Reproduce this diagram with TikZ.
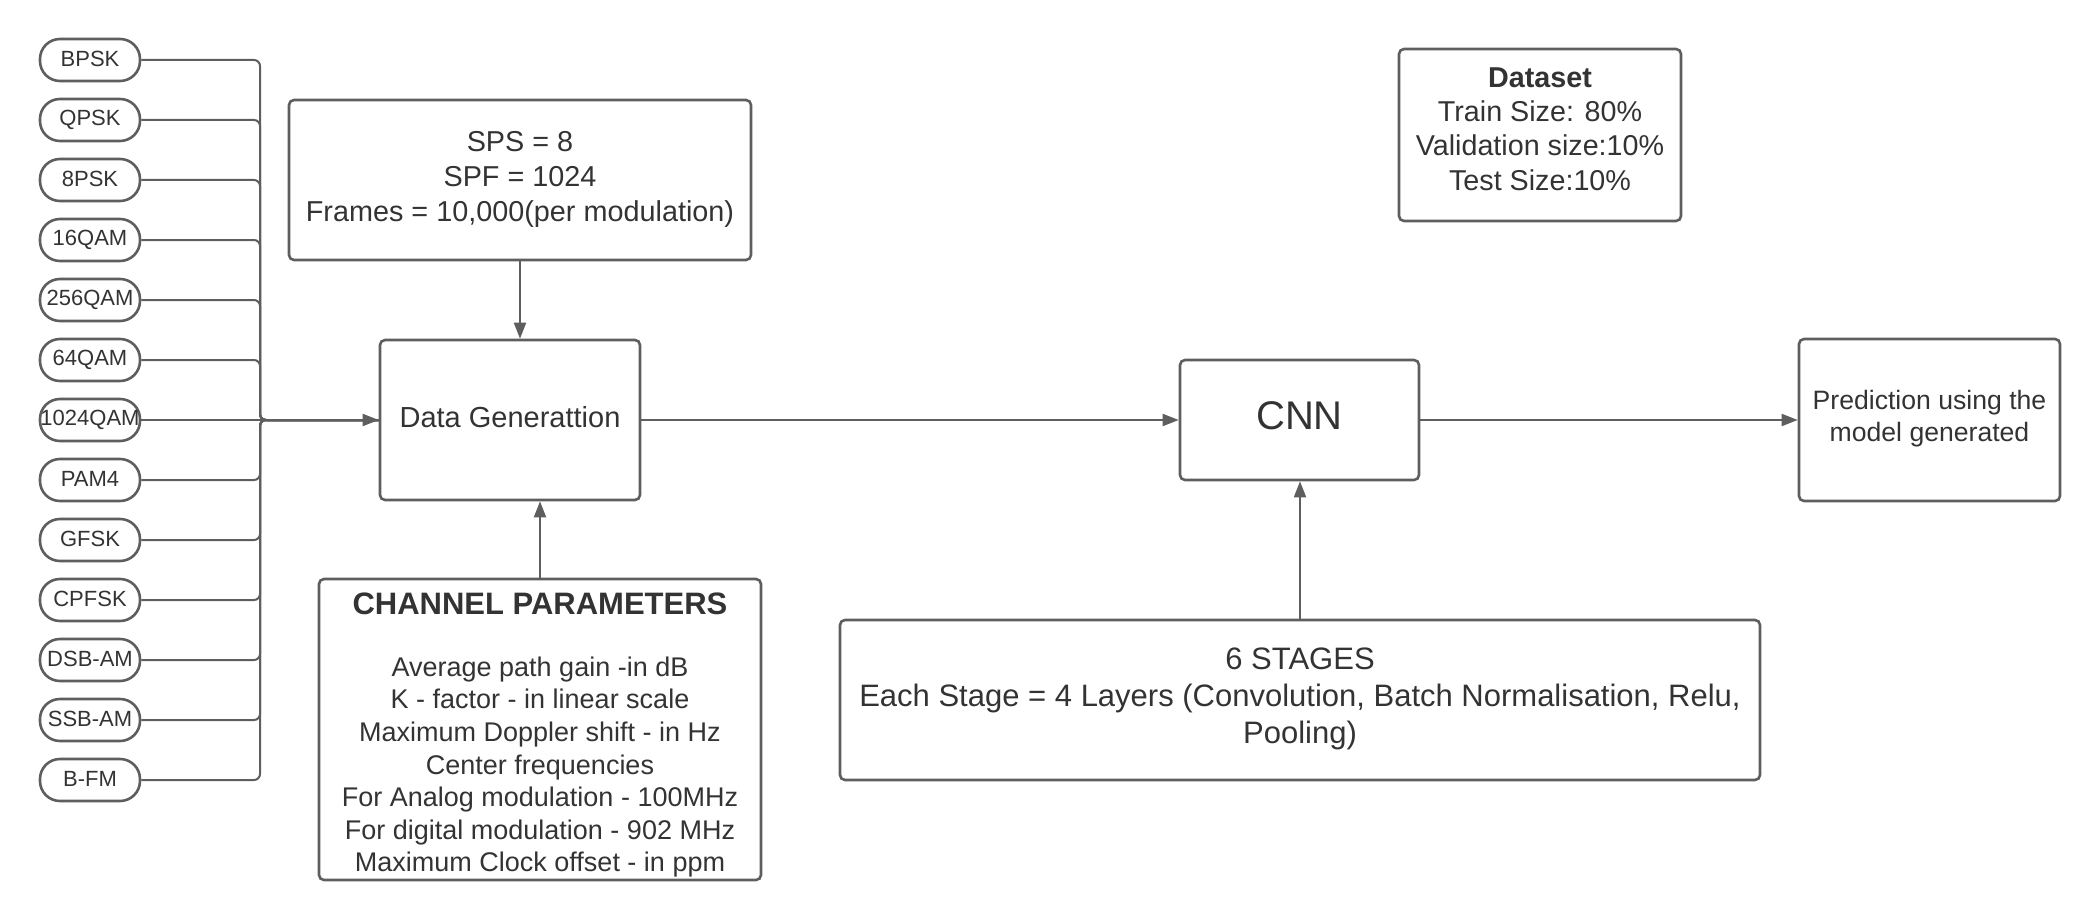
\documentclass[tikz,border=0pt]{standalone}
\usepackage{fontspec}
\setmainfont{Liberation Sans}
\usetikzlibrary{arrows.meta}
\definecolor{lc}{HTML}{5E5E5E}
\definecolor{tc}{HTML}{333333}
\begin{document}
\begin{tikzpicture}[x=1pt,y=-1pt,
  pill/.style={draw=lc,line width=2.6pt,rounded corners=20pt,minimum width=100pt,minimum height=42pt,inner sep=0pt,text=tc,font=\fontsize{22}{26}\selectfont},
  box/.style={draw=lc,line width=2.6pt,rounded corners=5pt,inner sep=0pt},
  txt/.style={inner sep=0pt,text=tc,align=center},
  conn/.style={draw=lc,line width=2pt},
  arr/.style={conn,-{Triangle[length=16pt,width=12pt]}},
  bus/.style={conn,rounded corners=6pt}]
\useasboundingbox (0,0) rectangle (2100,920);

\foreach \t [count=\i from 0] in {BPSK,QPSK,8PSK,16QAM,256QAM,64QAM,1024QAM,PAM4,GFSK,CPFSK,DSB-AM,SSB-AM,B-FM}
  \node[pill] (m\i) at (90,{60+60*\i}) {\raisebox{2pt}{\t}};

\node[box,minimum width=260pt,minimum height=160pt] (DG) at (510,420) {};
\node[txt,font=\fontsize{29}{34}\selectfont] (DGt) at (510,417) {Data Generattion};

\node[box,minimum width=462pt,minimum height=160pt] (SPS) at (520,180) {};
\node[txt,font=\fontsize{28.8}{35}\selectfont] (SPSt) at (520,179) {SPS = 8\\SPF = 1024\\Frames = 10,000(per modulation)};

\node[box,minimum width=442pt,minimum height=301pt] (CP) at (540,729.5) {};
\node[txt,font=\fontsize{27}{32.6}\selectfont] (CPt) at (540,735) {{\fontsize{31}{32.6}\selectfont\bfseries CHANNEL PARAMETERS}\\[29.5pt]Average path gain -in dB\\K - factor - in linear scale\\Maximum Doppler shift - in Hz\\Center frequencies\\For Analog modulation - 100MHz\\For digital modulation - 902 MHz\\Maximum Clock offset - in ppm};

\node[box,minimum width=239pt,minimum height=120pt] (CNN) at (1299.5,420) {};
\node[txt,font=\fontsize{40}{44}\selectfont] (CNNt) at (1299.5,416) {CNN};

\node[box,minimum width=920pt,minimum height=160pt] (ST) at (1300,700) {};
\node[txt,font=\fontsize{31}{37}\selectfont] (STt) at (1300,699) {6 STAGES\\Each Stage = 4 Layers (Convolution, Batch Normalisation, Relu,\\Pooling)};

\node[box,minimum width=282pt,minimum height=172pt] (DS) at (1540,135) {};
\node[txt,font=\fontsize{28.7}{34.4}\selectfont] (DSt) at (1540,129) {\textbf{Dataset}\\Train Size: 80\%\\Validation size:10\%\\Test Size:10\%};

\node[box,minimum width=261pt,minimum height=162pt] (PR) at (1929.5,420) {};
\node[txt,font=\fontsize{26.6}{32}\selectfont] (PRt) at (1929.5,419) {Prediction using the\\model generated};

\coordinate (bx) at (260,420);
\foreach \i in {0,1,2,3,4,5,7,8,9,10,11,12}
  \draw[bus] (m\i.east) -- (m\i.east -| bx) -- (bx) -- (DG.west);
\draw[arr] (m6.east) -- (DG.west);

\draw[arr] (SPS.south) -- (SPS.south |- DG.north);
\draw[arr] (CP.north) -- (CP.north |- DG.south);
\draw[arr] (DG.east) -- (CNN.west);
\draw[arr] (ST.north) -- (ST.north |- CNN.south);
\draw[arr] (CNN.east) -- (PR.west);
\end{tikzpicture}
\end{document}
